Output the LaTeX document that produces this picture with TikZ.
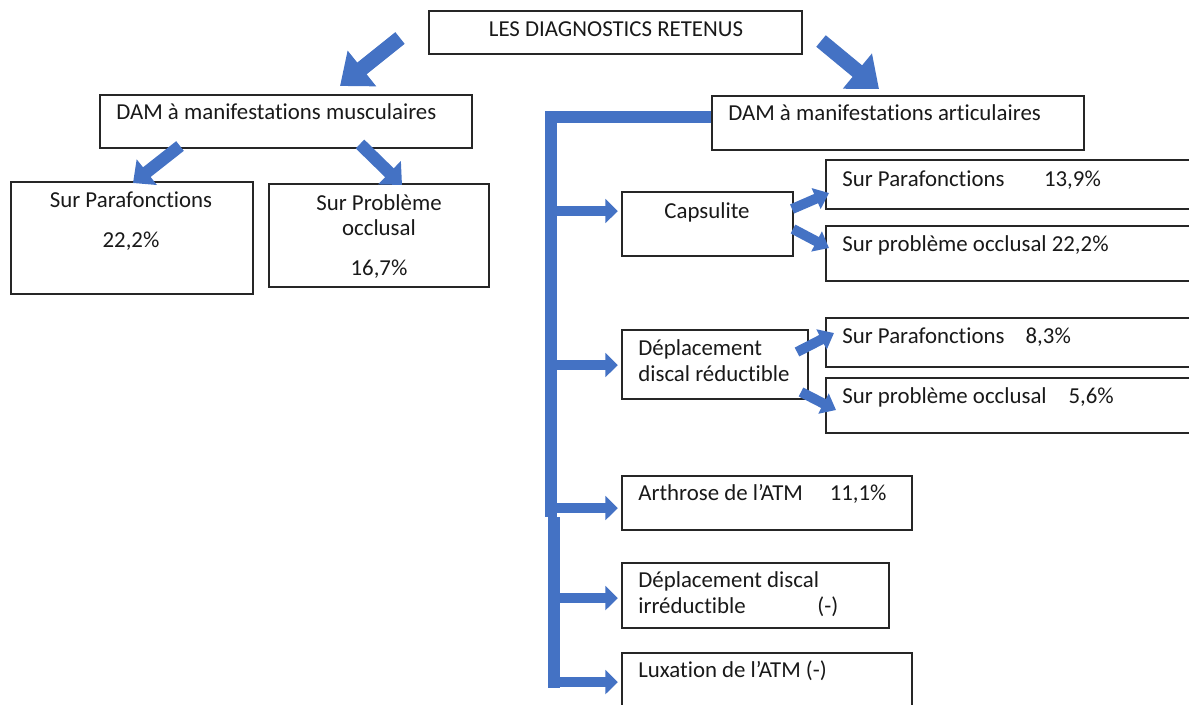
\documentclass[tikz,border=0pt]{standalone}
\usepackage{fontspec}
\setmainfont{Carlito}[Ligatures=NoCommon]
\usetikzlibrary{arrows.meta,fit}
\definecolor{bl}{HTML}{4472C4}
\begin{document}
\begin{tikzpicture}[x=0.02cm,y=-0.02cm,
  box/.style={draw=black!85, line width=0.8pt, inner sep=0pt},
  txt/.style={inner sep=0pt, text height=1.6ex, text depth=0.45ex, font=\fontsize{13}{15}\selectfont, text=black!90},
  big/.style={bl, line width=8.5pt, -{Triangle[width=25pt,length=16pt]}},
  mid/.style={bl, line width=7pt, -{Triangle[width=18pt,length=10pt]}},
  sml/.style={bl, line width=5.7pt, -{Triangle[width=12.5pt,length=8pt]}},
  br/.style={bl, line width=5.7pt, -{Triangle[width=13.5pt,length=7pt]}},
  bar/.style={bl, line width=6.8pt, line join=miter}]
\useasboundingbox (0,0) rectangle (1189,704);
\clip (0,0) rectangle (1189,704);
% boxes
\node[box, fit={(429,11) (802,54)}] (top) {};
\node[box, fit={(100,95) (472,148)}] (mus) {};
\node[box, fit={(712,96) (1084,150)}] (art) {};
\node[box, fit={(11,182) (253,294)}] (lp) {};
\node[box, fit={(269,184) (489,287)}] (lo) {};
\node[box, fit={(622,192) (793,256)}] (cap) {};
\node[box, fit={(826,160) (1200,209)}] (cp) {};
\node[box, fit={(826,226) (1200,281)}] (co) {};
\node[box, fit={(622,330) (808,399)}] (dep) {};
\node[box, fit={(826,318) (1200,367)}] (dp) {};
\node[box, fit={(826,378) (1200,433)}] (do) {};
\node[box, fit={(622,476) (912,530)}] (atm) {};
\node[box, fit={(622,563) (889,628)}] (irr) {};
\node[box, fit={(622,653) (912,720)}] (lux) {};
% texts
\node[txt] (ttop) at (616,32) {LES DIAGNOSTICS RETENUS};
\node[txt, anchor=west] (tmus) at (116,115) {DAM à manifestations musculaires};
\node[txt, anchor=west] (tart) at (728,116) {DAM à manifestations articulaires};
\node[txt] (tlp1) at (131,203) {Sur Parafonctions};
\node[txt] (tlp2) at (131,243) {22,2\%};
\node[txt] (tlo1) at (379,206) {Sur Problème};
\node[txt] (tlo2) at (379,231) {occlusal};
\node[txt] (tlo3) at (379,271) {16,7\%};
\node[txt] (tcap) at (707,214) {Capsulite};
\node[txt, anchor=west] (tcp) at (842,182) {Sur Parafonctions\hspace{22.5pt}13,9\%};
\node[txt, anchor=west] (tco) at (842,247) {Sur problème occlusal 22,2\%};
\node[txt, anchor=west] (tdep1) at (638,351) {Déplacement};
\node[txt, anchor=west] (tdep2) at (638,377) {discal réductible};
\node[txt, anchor=west] (tdp) at (842,339) {Sur Parafonctions\hspace{12pt}8,3\%};
\node[txt, anchor=west] (tdo) at (842,399) {Sur problème occlusal\hspace{12.5pt}5,6\%};
\node[txt, anchor=west] (tatm) at (638,496) {Arthrose de l’ATM\hspace{15.3pt}11,1\%};
\node[txt, anchor=west] (tirr1) at (638,583) {Déplacement discal};
\node[txt, anchor=west] (tirr2) at (638,609) {irréductible};
\node[txt, anchor=west] (tirr3) at (817,609) {(-)};
\node[txt, anchor=west] (tlux) at (638,673) {Luxation de l’ATM (-)};
% big diagonal arrows
\coordinate (a1s) at (400,38);
\coordinate (a1e) at (340,86);
\coordinate (a2s) at (821,41);
\coordinate (a2e) at (879,89);
\draw[big] (a1s) -- (a1e);
\draw[big] (a2s) -- (a2e);
\coordinate (b1s) at (180,146);
\coordinate (b1e) at (133,183);
\coordinate (b2s) at (360,144);
\coordinate (b2e) at (402,185);
\draw[mid] (b1s) -- (b1e);
\draw[mid] (b2s) -- (b2e);
% capsulite / deplacement arrows
\coordinate (c1s) at (792,209);
\coordinate (c1e) at (829,193);
\coordinate (c2s) at (793,229);
\coordinate (c2e) at (829,248);
\draw[sml] (c1s) -- (c1e);
\draw[sml] (c2s) -- (c2e);
\coordinate (d1s) at (797,352);
\coordinate (d1e) at (834,333);
\coordinate (d2s) at (801,392);
\coordinate (d2e) at (836,410);
\draw[sml] (d1s) -- (d1e);
\draw[sml] (d2s) -- (d2e);
% bracket
\coordinate (bt) at (712,117);
\coordinate (bc) at (551,117);
\coordinate (bm) at (551,517);
\coordinate (bm2) at (554,517);
\coordinate (bb) at (554,688);
\draw[bar] (art.west |- bt) -- (bc) -- (bm);
\draw[bar] (bm2) -- (bb);
\coordinate (v1) at (551,211);
\coordinate (v2) at (551,365);
\coordinate (v3) at (551,508);
\coordinate (v4) at (554,598);
\coordinate (v5) at (554,682);
\draw[br, shorten >=2pt] (v1) -- (cap.west |- v1);
\draw[br, shorten >=2pt] (v2) -- (dep.west |- v2);
\draw[br, shorten >=2pt] (v3) -- (atm.west |- v3);
\draw[br, shorten >=2pt] (v4) -- (irr.west |- v4);
\draw[br, shorten >=2pt] (v5) -- (lux.west |- v5);
\end{tikzpicture}
\end{document}
